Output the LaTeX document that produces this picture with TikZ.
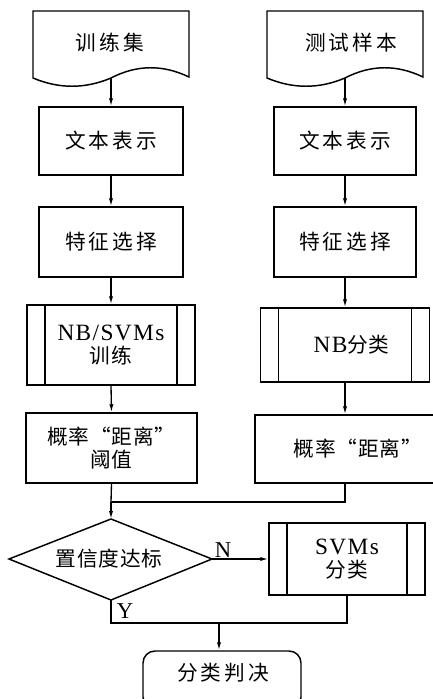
\documentclass[tikz,border=0pt]{standalone}
\usepackage{fontspec}
\setmainfont{Noto Sans CJK SC}[LetterSpace=15]
\newfontfamily\cjkn{Noto Sans CJK SC}[LetterSpace=4]
\newfontfamily\lat{Liberation Serif}[LetterSpace=6]
\usetikzlibrary{arrows.meta}
\tikzset{
  box/.style={draw, line width=1.1pt, inner sep=0pt, align=center,
    font=\fontsize{15.5}{17.5}\selectfont},
  subbox/.style={box, path picture={
    \draw[line width=1.1pt] ([xshift=13.5pt]path picture bounding box.north west) -- ([xshift=13.5pt]path picture bounding box.south west);
    \draw[line width=1.1pt] ([xshift=-13.5pt]path picture bounding box.north east) -- ([xshift=-13.5pt]path picture bounding box.south east);}},
  shp/.style={draw, line width=1.1pt},
  txt/.style={inner sep=0pt, align=center, font=\fontsize{15.5}{17.5}\selectfont},
  lbl/.style={inner sep=0pt, font=\fontsize{17}{19}\selectfont\lat},
  conn/.style={line width=1pt},
  arr/.style={conn, -{Latex[length=6pt,width=3.2pt]}}
}
\begin{document}
\begin{tikzpicture}[x=0.75pt,y=-0.75pt]
\useasboundingbox (0,0) rectangle (432,699);
% documents
\draw[shp] (33,78) -- (33,11) -- (189,11) -- (189,77)
  .. controls (163,64.5) and (137,64.5) .. (111,78)
  .. controls (85,89) and (59,89) .. (33,78) -- cycle;
\coordinate (d1b) at (111,78);
\node[txt] (d1) at (110,43) {训练集};
\draw[shp] (267,78) -- (267,11) -- (423,11) -- (423,77)
  .. controls (397,64.5) and (371,64.5) .. (345,78)
  .. controls (319,89) and (293,89) .. (267,78) -- cycle;
\coordinate (d2b) at (345,78);
\node[txt] (d2) at (351,43) {测试样本};
% left column
\node[box, minimum width=108pt, minimum height=51pt] (t1) at (111,141) {文本表示};
\node[box, minimum width=108pt, minimum height=52.5pt] (t2) at (111,242) {特征选择};
\node[subbox, minimum width=126pt, minimum height=60pt] (t3) at (111,345) {{\fontsize{17.5}{17.5}\selectfont\lat NB/SVMs}\\{\cjkn 训练}};
\node[box, minimum width=128.25pt, minimum height=52.5pt] (t4) at (111.5,448) {{\cjkn 概率“距离”}\\{\cjkn 阈值}};
% right column
\node[box, minimum width=106.5pt, minimum height=51pt] (r1) at (345,141) {文本表示};
\node[box, minimum width=106.5pt, minimum height=52.5pt] (r2) at (345,242) {特征选择};
\node[subbox, minimum width=126.75pt, minimum height=55.5pt] (r3) at (345,345) {\hspace*{10pt}{\fontsize{17.5}{17.5}\selectfont\lat NB}{\cjkn 分类}};
\node[box, minimum width=135pt, minimum height=51pt] (r4) at (345,449) {\hspace*{19pt}{\cjkn 概率“距离”}};
% decision
\coordinate (dt) at (111,519);
\coordinate (dr) at (212,559);
\coordinate (db) at (111,600);
\coordinate (dl) at (9,559);
\draw[shp] (dt) -- (dr) -- (db) -- (dl) -- cycle;
\node[txt] (dtext) at (109,559) {\cjkn 置信度达标};
\node[subbox, minimum width=117pt, minimum height=54pt] (s) at (347,559) {{\fontsize{17.5}{17.5}\selectfont\lat SVMs}\\{\cjkn 分类}};
% terminal
\node[draw, line width=1.1pt, rounded corners=9pt, minimum width=118.5pt, minimum height=43.5pt, inner sep=0pt] (term) at (222,680) {};
\node[txt] (ttext) at (223,673) {分类判决};
% connectors
\draw[arr] (d1b) -- (t1.north);
\draw[arr] (t1.south) -- (t2.north);
\draw[arr] (t2.south) -- (t3.north);
\draw[arr] (t3.south) -- (t4.north);
\draw[arr] (d2b) -- (r1.north);
\draw[arr] (r1.south) -- (r2.north);
\draw[arr] (r2.south) -- (r3.north);
\draw[arr] (r3.south) -- (r4.north);
\coordinate (j1) at (111,502);
\draw[conn] (t4.south) -- (j1);
\draw[conn] (r4.south) |- (j1);
\draw[arr] (j1) -- (dt);
\draw[arr] (dr) -- (s.west);
\node[lbl] (nl) at (223,550) {N};
\coordinate (j2) at (219,623);
\draw[conn] (db) |- (j2);
\draw[conn] (s.south) |- (j2);
\draw[arr] (j2) -- (j2 |- term.north);
\node[lbl] (yl) at (125,611) {Y};
\end{tikzpicture}
\end{document}
